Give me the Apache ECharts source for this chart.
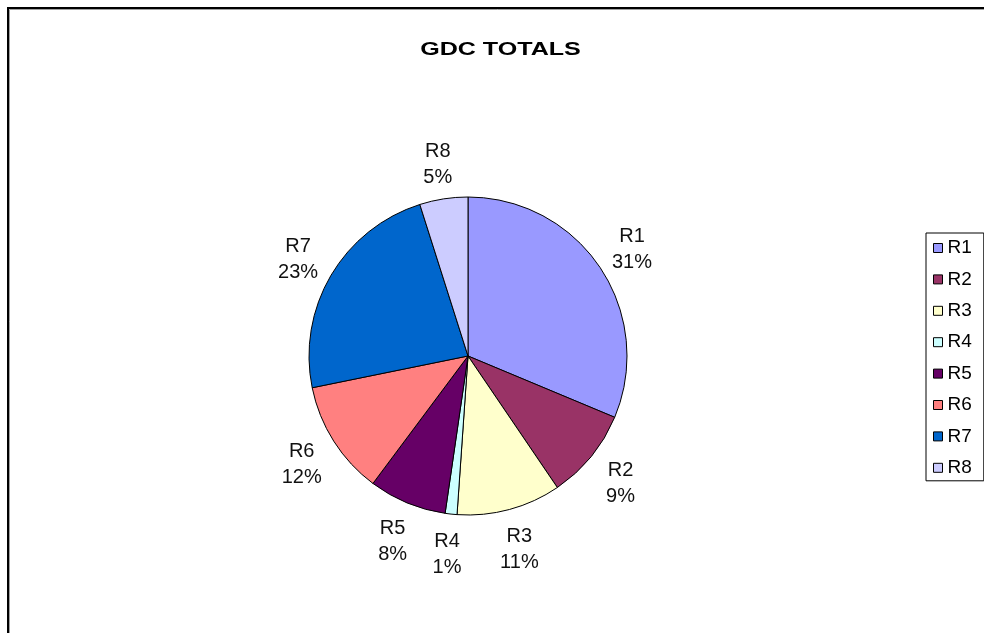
<!DOCTYPE html>
<html>
<head>
<meta charset="utf-8">
<script src="https://cdn.jsdelivr.net/npm/echarts@6/dist/echarts.min.js"></script>
<style>
  html, body { margin: 0; padding: 0; background: #fff; }
  #chart { width: 984px; height: 633px; }
</style>
</head>
<body>
<div id="chart"></div>
<script>
// Regions and their share of the GDC total
const categories = ['R1', 'R2', 'R3', 'R4', 'R5', 'R6', 'R7', 'R8'];
const totals = [31.3, 9.2, 10.6, 1.2, 7.9, 11.6, 23.3, 4.9];
const sliceColors = ['#9999FF', '#993366', '#FFFFCC', '#CCFFFF', '#660066', '#FF8080', '#0066CC', '#CCCCFF'];
const chartTitle = 'GDC TOTALS';

const pieData = categories.map((name, i) => ({
  name: name,
  value: totals[i],
  itemStyle: { color: sliceColors[i] }
}));

const FONT = 'Arial, "Liberation Sans", sans-serif';

const chart = echarts.init(document.getElementById('chart'), null, { renderer: 'canvas' });

chart.setOption({
  animation: false,
  backgroundColor: '#ffffff',
  graphic: [
    {
      type: 'rect',
      shape: { x: 8, y: 8, width: 1000, height: 700 },
      style: { fill: 'none', stroke: '#000', lineWidth: 2 },
      silent: true
    },
    {
      type: 'rect',
      shape: { x: 9.5, y: 9.5, width: 1000, height: 700 },
      style: { fill: 'none', stroke: '#a0a0a0', lineWidth: 1 },
      silent: true
    },
    {
      type: 'text',
      x: 500.5,
      y: 50,
      scaleX: 1.32,
      style: {
        text: chartTitle,
        font: 'bold 19px ' + FONT,
        fill: '#000',
        align: 'center',
        verticalAlign: 'middle'
      },
      silent: true
    }
  ],
  legend: {
    orient: 'vertical',
    left: 926,
    top: 233,
    padding: [5, 12, 3, 7],
    itemWidth: 9,
    itemHeight: 9,
    itemGap: 11.4,
    icon: 'rect',
    borderColor: '#000',
    borderWidth: 1,
    itemStyle: { borderColor: '#000', borderWidth: 1 },
    textStyle: { fontFamily: FONT, fontSize: 19, color: '#000', lineHeight: 20 },
    data: categories
  },
  series: [
    {
      name: 'GDC',
      type: 'pie',
      center: [468, 356],
      radius: 159,
      startAngle: 90,
      clockwise: true,
      silent: true,
      itemStyle: { borderColor: '#000', borderWidth: 1 },
      label: { show: false },
      labelLine: { show: false },
      data: pieData
    },
    {
      // transparent ring carrying the category / percent labels
      name: 'labels',
      type: 'pie',
      center: [468, 359],
      radius: [177, 211],
      startAngle: 90,
      clockwise: true,
      silent: true,
      percentPrecision: 0,
      itemStyle: { color: 'rgba(0,0,0,0)', borderWidth: 0 },
      label: {
        show: true,
        position: 'inside',
        formatter: '{b}\n{d}%',
        fontFamily: FONT,
        fontSize: 20,
        lineHeight: 26,
        color: '#111',
        align: 'center'
      },
      labelLine: { show: false },
      data: categories.map((name, i) => ({ name: name, value: totals[i] }))
    }
  ]
});
</script>
</body>
</html>
